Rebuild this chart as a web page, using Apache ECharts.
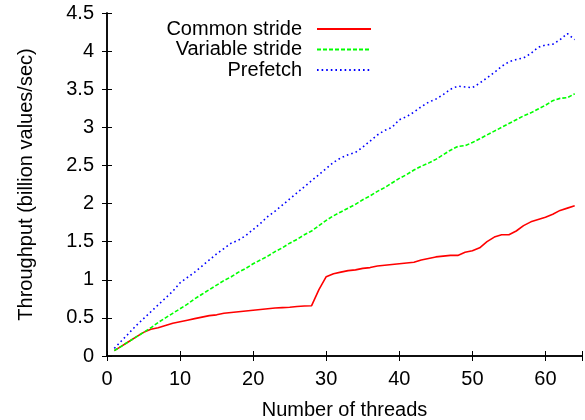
<!DOCTYPE html>
<html>
<head>
<meta charset="utf-8">
<script src="https://cdn.jsdelivr.net/npm/echarts@6/dist/echarts.min.js"></script>
<style>
  html, body { margin: 0; padding: 0; background: #fff; }
  #chart { width: 585px; height: 420px; }
</style>
</head>
<body>
<div id="chart"></div>
<script>
// Thread counts on the x axis
const threads = Array.from({ length: 64 }, (_, i) => i + 1);

// Throughput in billion values/sec, one value per thread count
const commonStride = [
  0.07, 0.13, 0.19, 0.25, 0.31, 0.35, 0.37, 0.40, 0.43, 0.45,
  0.47, 0.49, 0.51, 0.53, 0.54, 0.56, 0.57, 0.58, 0.59, 0.60,
  0.61, 0.62, 0.63, 0.635, 0.64, 0.65, 0.655, 0.66, 0.87, 1.04,
  1.08, 1.10, 1.12, 1.13, 1.15, 1.16, 1.18, 1.19, 1.20, 1.21,
  1.22, 1.23, 1.26, 1.28, 1.30, 1.31, 1.32, 1.32, 1.36, 1.38,
  1.42, 1.50, 1.56, 1.59, 1.59, 1.64, 1.71, 1.76, 1.79, 1.82,
  1.86, 1.91, 1.94, 1.97
];
const variableStride = [
  0.07, 0.13, 0.19, 0.25, 0.31, 0.37, 0.44, 0.50, 0.56, 0.62,
  0.68, 0.75, 0.81, 0.87, 0.93, 0.99, 1.04, 1.10, 1.15, 1.21,
  1.26, 1.31, 1.37, 1.42, 1.48, 1.53, 1.59, 1.64, 1.71, 1.78,
  1.84, 1.89, 1.94, 1.99, 2.05, 2.10, 2.16, 2.21, 2.27, 2.33,
  2.38, 2.44, 2.49, 2.53, 2.58, 2.64, 2.70, 2.75, 2.76, 2.80,
  2.85, 2.90, 2.95, 3.00, 3.05, 3.10, 3.15, 3.19, 3.24, 3.29,
  3.35, 3.38, 3.39, 3.44
];
const prefetch = [
  0.10, 0.20, 0.30, 0.40, 0.49, 0.58, 0.67, 0.76, 0.85, 0.96,
  1.03, 1.10, 1.18, 1.26, 1.34, 1.41, 1.48, 1.52, 1.58, 1.66,
  1.74, 1.83, 1.90, 1.98, 2.06, 2.14, 2.22, 2.30, 2.38, 2.46,
  2.54, 2.60, 2.64, 2.67, 2.74, 2.82, 2.90, 2.96, 3.00, 3.10,
  3.14, 3.20, 3.27, 3.33, 3.37, 3.43, 3.50, 3.54, 3.53, 3.52,
  3.58, 3.65, 3.72, 3.80, 3.86, 3.89, 3.91, 3.97, 4.05, 4.08,
  4.09, 4.15, 4.23, 4.15
];

const seriesNames = ['Common stride', 'Variable stride', 'Prefetch'];
const xAxisTitle = 'Number of threads';
const yAxisTitle = 'Throughput (billion values/sec)';

const FONT = 'Liberation Sans, Arial, sans-serif';

const pairs = ys => threads.map((t, i) => [t, ys[i]]);

const frameLine = { show: true, lineStyle: { color: '#000', width: 1.5 } };
const innerTicks = { show: true, inside: true, length: 5, lineStyle: { color: '#000', width: 1 } };

const chart = echarts.init(document.getElementById('chart'), null, { renderer: 'canvas' });

chart.setOption({
  backgroundColor: '#fff',
  animation: false,
  textStyle: { fontFamily: FONT },
  grid: { left: 107, right: 3, top: 13, bottom: 64, containLabel: false, outerBoundsMode: 'none' },
  legend: {
    orient: 'vertical',
    right: 208,
    top: 14,
    align: 'right',
    itemWidth: 54,
    itemHeight: 14,
    itemGap: 0.5,
    itemStyle: { opacity: 0 },
    textStyle: { fontFamily: FONT, fontSize: 20, color: '#000', lineHeight: 20, padding: [0, 10, 0, 0] },
    data: seriesNames
  },
  xAxis: [
    {
      type: 'value', min: 0, max: 65, interval: 10,
      axisLine: frameLine, axisTick: innerTicks, splitLine: { show: false },
      axisLabel: { fontFamily: FONT, fontSize: 20, color: '#000', margin: 13,
        formatter: v => (v % 10 === 0 && v <= 60) ? String(v) : '' },
      name: xAxisTitle, nameLocation: 'middle', nameGap: 44,
      nameTextStyle: { fontFamily: FONT, fontSize: 20, color: '#000' }
    },
    {
      type: 'value', position: 'top', min: 0, max: 65, interval: 10,
      axisLine: frameLine, axisTick: innerTicks, axisLabel: { show: false }, splitLine: { show: false }
    }
  ],
  yAxis: [
    {
      type: 'value', min: 0, max: 4.5, interval: 0.5,
      axisLine: frameLine, axisTick: innerTicks, splitLine: { show: false },
      axisLabel: { fontFamily: FONT, fontSize: 20, color: '#000', margin: 13 },
      name: yAxisTitle, nameLocation: 'middle', nameGap: 71,
      nameTextStyle: { fontFamily: FONT, fontSize: 20, color: '#000' }
    },
    {
      type: 'value', position: 'right', min: 0, max: 4.5, interval: 0.5,
      axisLine: frameLine, axisTick: innerTicks, axisLabel: { show: false }, splitLine: { show: false }
    }
  ],
  series: [
    {
      name: seriesNames[0], type: 'line', data: pairs(commonStride),
      symbol: 'none', color: '#ff0000',
      lineStyle: { color: '#ff0000', width: 1.6, type: 'solid' }
    },
    {
      name: seriesNames[1], type: 'line', data: pairs(variableStride),
      symbol: 'none', color: '#00ff00',
      lineStyle: { color: '#00ff00', width: 1.6, type: [4, 2] }
    },
    {
      name: seriesNames[2], type: 'line', data: pairs(prefetch),
      symbol: 'none', color: '#0000ff',
      lineStyle: { color: '#0000ff', width: 1.6, type: [1.6, 3] }
    }
  ]
});
</script>
</body>
</html>
